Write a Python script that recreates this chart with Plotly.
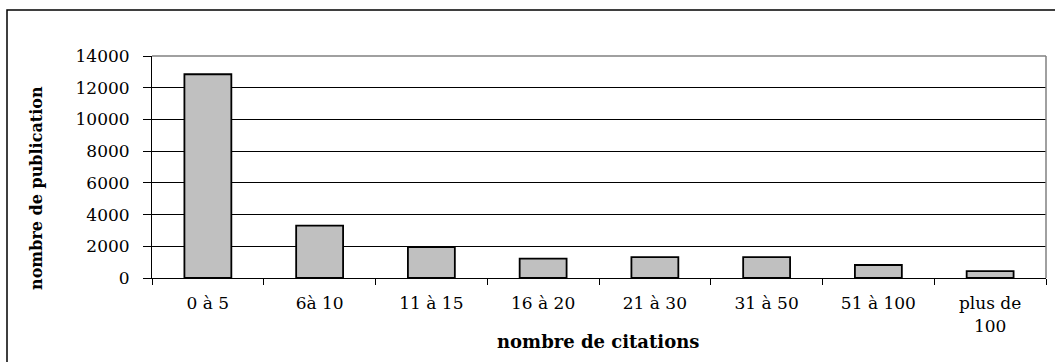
import plotly.graph_objects as go

categories = ["0 à 5", "6à 10", "11 à 15", "16 à 20", "21 à 30", "31 à 50", "51 à 100", "plus de<br>100"]
publications = [12850, 3300, 1950, 1220, 1320, 1320, 820, 430]
y_ticks = [0, 2000, 4000, 6000, 8000, 10000, 12000, 14000]
x_title = "nombre de citations"
y_title = "nombre de publication"

W, H = 1055, 362
L, R, T, B = 152, 9, 56, 84
pw, ph = W - L - R, H - T - B

FONT = "DejaVu Serif"

fig = go.Figure(go.Bar(
    x=categories, y=publications,
    marker=dict(color="#C0C0C0", line=dict(color="black", width=1.8)),
    width=0.42,
))

fig.update_layout(
    width=W, height=H,
    margin=dict(l=L, r=R, t=T, b=B, pad=0),
    paper_bgcolor="white", plot_bgcolor="white",
    showlegend=False,
    font=dict(family=FONT, size=17, color="black"),
    xaxis=dict(
        type="category", showgrid=False, showline=True, linecolor="black", linewidth=1,
        ticks="outside", tickson="boundaries", ticklen=6, tickcolor="black",
        tickfont=dict(family=FONT, size=17), ticklabelstandoff=10,
    ),
    yaxis=dict(
        range=[0, 14000], tickvals=y_ticks, ticktext=[str(v) for v in y_ticks],
        showgrid=True, gridcolor="black", gridwidth=1,
        showline=True, linecolor="black", linewidth=1,
        ticks="outside", ticklen=8, tickcolor="black",
        tickfont=dict(family=FONT, size=17), ticklabelstandoff=10,
        zeroline=False,
    ),
    shapes=[
        # plot-area border (gray) top and right
        dict(type="line", xref="paper", yref="paper", x0=0, x1=1, y0=1, y1=1,
             line=dict(color="#808080", width=1.5), layer="above"),
        dict(type="line", xref="paper", yref="paper", x0=1, x1=1, y0=0, y1=1,
             line=dict(color="#808080", width=1.5), layer="above"),
        # outer chart frame
        dict(type="rect", xref="paper", yref="paper",
             x0=(7 - L) / pw, x1=1.2, y0=-2, y1=(H - B - 10) / ph,
             line=dict(color="black", width=1.5), layer="below"),
    ],
    annotations=[
        dict(text="<b>" + x_title + "</b>", xref="paper", yref="paper",
             x=(598 - L) / pw, y=(H - B - 341) / ph, showarrow=False,
             font=dict(family=FONT, size=18), xanchor="center", yanchor="middle"),
        dict(text="<b>" + y_title + "</b>", xref="paper", yref="paper",
             x=(37 - L) / pw, y=(H - B - 188) / ph, showarrow=False, textangle=-90,
             font=dict(family=FONT, size=16), xanchor="center", yanchor="middle"),
    ],
)

fig.write_html(
    "out.html",
    config={"displayModeBar": False},
    post_script="document.body.style.margin='0';document.body.style.padding='0';",
)
